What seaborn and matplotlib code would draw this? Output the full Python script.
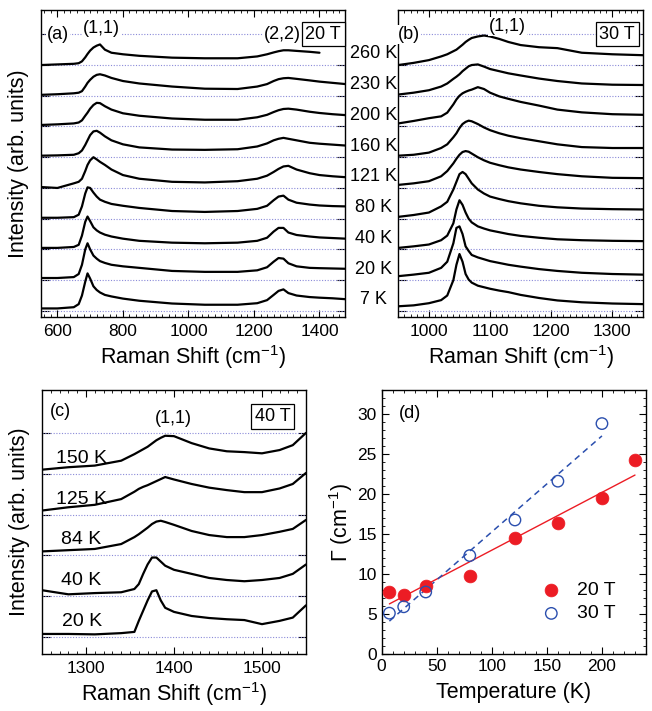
import numpy as np
import matplotlib
matplotlib.use('Agg')
import matplotlib.pyplot as plt
import seaborn as sns
from matplotlib.ticker import MultipleLocator, NullFormatter
from matplotlib.transforms import blended_transform_factory

# ---- (a) 20 T spectra, intensity above each baseline ----
shift_a = [550, 600, 650, 665, 675, 685, 692, 700, 710, 720, 730, 745, 765, 800, 850,
           950, 1050, 1150, 1210, 1240, 1260, 1275, 1290, 1305, 1330, 1370, 1400, 1440, 1480]
a_7K = [0.08, 0.08, 0.12, 0.22, 0.5, 0.95, 1.22, 1.05, 0.8, 0.68, 0.6, 0.52, 0.47, 0.4, 0.33,
        0.24, 0.2, 0.2, 0.25, 0.35, 0.52, 0.65, 0.7, 0.58, 0.5, 0.45, 0.43, 0.41, 0.38]
a_20K = [0.07, 0.07, 0.1, 0.2, 0.5, 1.0, 1.2, 1.0, 0.8, 0.7, 0.62, 0.56, 0.5, 0.45, 0.4,
         0.3, 0.27, 0.27, 0.32, 0.42, 0.6, 0.72, 0.7, 0.55, 0.45, 0.4, 0.39, 0.38, 0.37]
a_40K = [0.05, 0.05, 0.08, 0.15, 0.45, 0.9, 1.07, 0.92, 0.72, 0.62, 0.55, 0.48, 0.42, 0.35, 0.28,
         0.22, 0.2, 0.22, 0.28, 0.38, 0.58, 0.7, 0.7, 0.55, 0.47, 0.42, 0.39, 0.37, 0.35]
a_80K = [0.03, 0.03, 0.05, 0.13, 0.4, 0.82, 1.02, 1.0, 0.85, 0.72, 0.62, 0.55, 0.48, 0.42, 0.35,
         0.25, 0.22, 0.25, 0.32, 0.42, 0.6, 0.72, 0.75, 0.62, 0.52, 0.46, 0.43, 0.41, 0.4]
a_121K = [0.03, 0.0, 0.15, 0.2, 0.3, 0.55, 0.75, 0.9, 1.0, 0.93, 0.85, 0.75, 0.6, 0.42, 0.3,
          0.2, 0.18, 0.22, 0.3, 0.4, 0.52, 0.62, 0.7, 0.72, 0.6, 0.48, 0.42, 0.38, 0.35]
a_160K = [0.05, 0.06, 0.08, 0.13, 0.22, 0.4, 0.55, 0.72, 0.84, 0.86, 0.8, 0.68, 0.55, 0.42, 0.32,
          0.25, 0.24, 0.26, 0.35, 0.45, 0.55, 0.6, 0.63, 0.6, 0.55, 0.47, 0.44, 0.41, 0.38]
a_200K = [0.05, 0.07, 0.1, 0.13, 0.2, 0.35, 0.45, 0.58, 0.7, 0.77, 0.76, 0.66, 0.55, 0.43, 0.35,
          0.26, 0.22, 0.22, 0.3, 0.38, 0.47, 0.53, 0.57, 0.58, 0.55, 0.48, 0.44, 0.4, 0.37]
a_230K = [0.03, 0.05, 0.08, 0.1, 0.15, 0.3, 0.42, 0.52, 0.62, 0.68, 0.7, 0.66, 0.58, 0.48, 0.4,
          0.3, 0.23, 0.22, 0.3, 0.38, 0.48, 0.54, 0.57, 0.58, 0.55, 0.5, 0.46, 0.42, 0.38]
a_260K = [0.0, 0.02, 0.04, 0.06, 0.12, 0.25, 0.36, 0.47, 0.57, 0.63, 0.67, 0.5, 0.4, 0.35, 0.3,
          0.24, 0.22, 0.22, 0.28, 0.35, 0.41, 0.45, 0.48, 0.48, 0.46, 0.43, 0.4, np.nan, np.nan]

# ---- (b) 30 T spectra ----
shift_b = [950, 975, 1000, 1020, 1030, 1040, 1045, 1050, 1055, 1060, 1065, 1070, 1080, 1090,
           1100, 1115, 1130, 1150, 1180, 1210, 1250, 1300, 1350]
b_7K = [0.15, 0.18, 0.25, 0.35, 0.5, 1.0, 1.5, 1.85, 1.6, 1.2, 1.02, 0.92, 0.82, 0.77,
        0.72, 0.66, 0.61, 0.52, 0.42, 0.34, 0.28, 0.24, 0.22]
b_20K = [0.13, 0.18, 0.24, 0.4, 0.6, 1.2, 1.7, 1.75, 1.5, 1.1, 0.95, 0.82, 0.74, 0.68,
         0.62, 0.56, 0.5, 0.44, 0.36, 0.3, 0.24, 0.2, 0.18]
b_40K = [0.05, 0.1, 0.16, 0.3, 0.45, 0.85, 1.3, 1.6, 1.45, 1.2, 1.0, 0.88, 0.75, 0.68,
         0.62, 0.56, 0.5, 0.44, 0.38, 0.33, 0.3, 0.28, 0.27]
b_80K = [0.06, 0.12, 0.2, 0.4, 0.55, 0.95, 1.2, 1.45, 1.52, 1.45, 1.3, 1.15, 0.95, 0.82,
         0.72, 0.64, 0.57, 0.5, 0.42, 0.37, 0.33, 0.31, 0.3]
b_121K = [0.1, 0.15, 0.22, 0.38, 0.55, 0.8, 0.95, 1.08, 1.17, 1.2, 1.18, 1.12, 1.0, 0.9,
          0.82, 0.74, 0.67, 0.6, 0.52, 0.45, 0.38, 0.33, 0.32]
b_160K = [0.05, 0.08, 0.15, 0.3, 0.42, 0.65, 0.78, 0.95, 1.08, 1.15, 1.19, 1.17, 1.08, 0.97,
          0.88, 0.78, 0.7, 0.62, 0.52, 0.42, 0.33, 0.3, 0.3]
b_200K = [0.1, 0.18, 0.27, 0.33, 0.45, 0.72, 0.88, 1.0, 1.08, 1.13, 1.17, 1.2, 1.28, 1.22,
          1.1, 0.98, 0.9, 0.8, 0.68, 0.55, 0.46, 0.4, 0.38]
b_230K = [0.04, 0.1, 0.18, 0.3, 0.4, 0.55, 0.62, 0.7, 0.8, 0.88, 0.96, 1.0, 1.02, 0.95,
          0.87, 0.8, 0.73, 0.66, 0.56, 0.48, 0.4, 0.36, 0.35]
b_260K = [0.0, 0.07, 0.16, 0.28, 0.35, 0.45, 0.5, 0.58, 0.66, 0.75, 0.82, 0.88, 0.93, 0.96,
          0.93, 0.85, 0.75, 0.65, 0.58, 0.55, 0.4, 0.35, 0.32]

temps_ab = ['7 K', '20 K', '40 K', '80 K', '121 K', '160 K', '200 K', '230 K', '260 K']

# ---- (c) 40 T spectra ----
shift_c = [1250, 1280, 1310, 1340, 1355, 1360, 1365, 1370, 1375, 1380, 1385, 1390, 1400,
           1420, 1440, 1460, 1480, 1500, 1520, 1535, 1550]
c_20K = [0.08, 0.08, 0.07, 0.1, 0.13, 0.4, 0.65, 0.9, 1.12, 1.15, 0.9, 0.72, 0.62,
         0.52, 0.47, 0.44, 0.42, 0.32, 0.4, 0.48, 0.78]
c_40K = [0.15, 0.05, 0.08, 0.1, 0.18, 0.3, 0.55, 0.78, 0.95, 0.95, 0.85, 0.75, 0.65,
         0.55, 0.45, 0.4, 0.37, 0.4, 0.45, 0.55, 0.78]
c_84K = [0.1, 0.13, 0.16, 0.28, 0.45, 0.52, 0.6, 0.68, 0.77, 0.83, 0.85, 0.82, 0.75,
         0.6, 0.5, 0.45, 0.45, 0.5, 0.58, 0.65, 0.87]
c_125K = [0.1, 0.18, 0.24, 0.38, 0.56, 0.63, 0.68, 0.72, 0.77, 0.82, 0.87, 0.92, 0.86,
          0.75, 0.66, 0.6, 0.55, 0.55, 0.64, 0.75, 1.02]
c_150K = [0.1, 0.16, 0.2, 0.32, 0.48, 0.54, 0.6, 0.66, 0.74, 0.82, 0.88, 0.93, 0.92,
          0.75, 0.62, 0.55, 0.53, 0.5, 0.58, 0.7, 1.0]
temps_c = ['20 K', '40 K', '84 K', '125 K', '150 K']

# ---- (d) linewidth vs temperature ----
temp_20T = [7, 20, 40, 80, 121, 160, 200, 230]
gamma_20T = [7.8, 7.4, 8.5, 9.7, 14.5, 16.4, 19.5, 24.2]
temp_30T = [7, 20, 40, 80, 121, 160, 200]
gamma_30T = [5.1, 5.9, 7.75, 12.3, 16.75, 21.6, 28.8]

sns.set_style('ticks')
plt.rcParams['font.family'] = ['Liberation Sans', 'DejaVu Sans']
plt.rcParams['mathtext.fontset'] = 'custom'
plt.rcParams['mathtext.rm'] = 'Liberation Sans'
plt.rcParams['mathtext.it'] = 'Liberation Sans:italic'
plt.rcParams['axes.linewidth'] = 1.0
for k in ['axes.edgecolor', 'axes.labelcolor', 'xtick.color', 'ytick.color', 'text.color']:
    plt.rcParams[k] = 'black'

RED = '#ec1c24'
BLUE = '#2b4fae'
DOT = '#8a8ad8'
TICK = 12.5
LAB = 15.5
ANN = 13

fig = plt.figure(figsize=(6.52, 7.11), dpi=100)
ax_a = fig.add_axes([0.0629, 0.5541, 0.4663, 0.4318])
ax_b = fig.add_axes([0.6109, 0.5541, 0.3753, 0.4318])
ax_c = fig.add_axes([0.0644, 0.0802, 0.4049, 0.3713])
ax_d = fig.add_axes([0.5854, 0.0802, 0.4054, 0.3713])


def spectra(ax, x, curves, nlines):
    for lvl in range(nlines):
        ax.axhline(lvl, color=DOT, ls=(0, (1, 1.5)), lw=0.8, zorder=1)
    for i, y in enumerate(curves):
        sns.lineplot(x=x, y=np.array(y, dtype=float) + i, ax=ax, color='black',
                     lw=1.6, zorder=3)
    ax.set_yticks(range(nlines))
    ax.yaxis.set_major_formatter(NullFormatter())
    ax.tick_params(axis='y', which='major', direction='in', left=True, right=True, length=6)
    ax.tick_params(axis='x', which='both', direction='in', top=True, bottom=True,
                   labelsize=TICK, pad=5)
    ax.tick_params(axis='x', which='major', length=5)
    ax.tick_params(axis='x', which='minor', length=2.5)
    ax.set_xlabel(r'Raman Shift (cm$^{-1}$)', fontsize=LAB, labelpad=3)
    ax.set_ylabel('')


box = dict(boxstyle='square,pad=0.2', fc='white', ec='black', lw=0.9)
wbg = dict(boxstyle='square,pad=0.05', fc='white', ec='none')

# (a)
spectra(ax_a, shift_a, [a_7K, a_20K, a_40K, a_80K, a_121K, a_160K, a_200K, a_230K, a_260K], 10)
ax_a.set_xlim(550, 1478)
ax_a.set_ylim(-0.2, 9.79)
ax_a.xaxis.set_major_locator(MultipleLocator(200))
ax_a.xaxis.set_minor_locator(MultipleLocator(20))
ax_a.set_ylabel('Intensity (arb. units)', fontsize=LAB, labelpad=5)
ax_a.text(603, 9, '(a)', fontsize=ANN, ha='center', va='center', bbox=wbg, zorder=4)
ax_a.text(734, 9.18, '(1,1)', fontsize=ANN, ha='center', va='center', bbox=wbg, zorder=4)
ax_a.text(1286, 9, '(2,2)', fontsize=ANN, ha='center', va='center', bbox=wbg, zorder=4)
ax_a.text(1411, 9, '20 T', fontsize=ANN, ha='center', va='center', bbox=box, zorder=4)
tr = blended_transform_factory(ax_a.transAxes, ax_a.transData)
for i, t in enumerate(temps_ab):
    ax_a.text(1.095, i + 0.36, t, transform=tr, fontsize=ANN, ha='center', va='center')

# (b)
spectra(ax_b, shift_b, [b_7K, b_20K, b_40K, b_80K, b_121K, b_160K, b_200K, b_230K, b_260K], 10)
ax_b.set_xlim(950, 1350)
ax_b.set_ylim(-0.2, 9.79)
ax_b.xaxis.set_major_locator(MultipleLocator(100))
ax_b.xaxis.set_minor_locator(MultipleLocator(10))
ax_b.text(967, 9, '(b)', fontsize=ANN, ha='center', va='center', bbox=wbg, zorder=4)
ax_b.text(1128, 9.25, '(1,1)', fontsize=ANN, ha='center', va='center', bbox=wbg, zorder=4)
ax_b.text(1308, 9, '30 T', fontsize=ANN, ha='center', va='center', bbox=box, zorder=4)

# (c)
spectra(ax_c, shift_c, [c_20K, c_40K, c_84K, c_125K, c_150K], 6)
ax_c.set_xlim(1250, 1550)
ax_c.set_ylim(-0.41, 6.05)
ax_c.xaxis.set_major_locator(MultipleLocator(100))
ax_c.xaxis.set_minor_locator(MultipleLocator(10))
ax_c.set_ylabel('Intensity (arb. units)', fontsize=LAB, labelpad=5)
ax_c.text(1271, 5.52, '(c)', fontsize=ANN, ha='center', va='center')
ax_c.text(1399, 5.35, '(1,1)', fontsize=ANN, ha='center', va='center')
ax_c.text(1512, 5.4, '40 T', fontsize=ANN, ha='center', va='center', bbox=box)
for i, t in enumerate(temps_c):
    ax_c.text(1295, i + 0.38, t, fontsize=ANN + 1, ha='center', va='center', zorder=4)

# (d)
sns.scatterplot(x=temp_20T, y=gamma_20T, ax=ax_d, color=RED, edgecolor=RED, s=85,
                linewidth=0.5, label='20 T', zorder=4)
sns.scatterplot(x=temp_30T, y=gamma_30T, ax=ax_d, color=BLUE, edgecolor=BLUE, s=68,
                linewidth=1.0, label='30 T', zorder=4)
ax_d.collections[-1].set_facecolor('none')
handles, labels = ax_d.get_legend_handles_labels()
sns.regplot(x=temp_20T, y=gamma_20T, ax=ax_d, scatter=False, ci=None, truncate=True,
            line_kws=dict(color=RED, lw=1.0))
sns.regplot(x=temp_30T, y=gamma_30T, ax=ax_d, scatter=False, ci=None, truncate=True,
            line_kws=dict(color=BLUE, lw=1.1, ls=(0, (4, 3))))
ax_d.legend(handles, labels, frameon=False, fontsize=ANN + 1, loc='center left',
            bbox_to_anchor=(0.605, 0.197), borderaxespad=0, borderpad=0,
            handlelength=1.0, handletextpad=0.8, labelspacing=0.3)
ax_d.set_xlim(0, 240)
ax_d.set_ylim(0, 33)
ax_d.xaxis.set_major_locator(MultipleLocator(50))
ax_d.xaxis.set_minor_locator(MultipleLocator(10))
ax_d.yaxis.set_major_locator(MultipleLocator(5))
ax_d.yaxis.set_minor_locator(MultipleLocator(1))
ax_d.tick_params(which='both', direction='in', top=True, right=True, labelsize=TICK)
ax_d.tick_params(which='major', length=5)
ax_d.tick_params(which='minor', length=2.5)
ax_d.set_xlabel('Temperature (K)', fontsize=LAB, labelpad=6)
ax_d.set_ylabel(r'Γ (cm$^{-1}$)', fontsize=LAB, labelpad=2)
ax_d.text(26, 30, '(d)', fontsize=ANN, ha='center', va='center')

fig.savefig('out.png', dpi=100)
